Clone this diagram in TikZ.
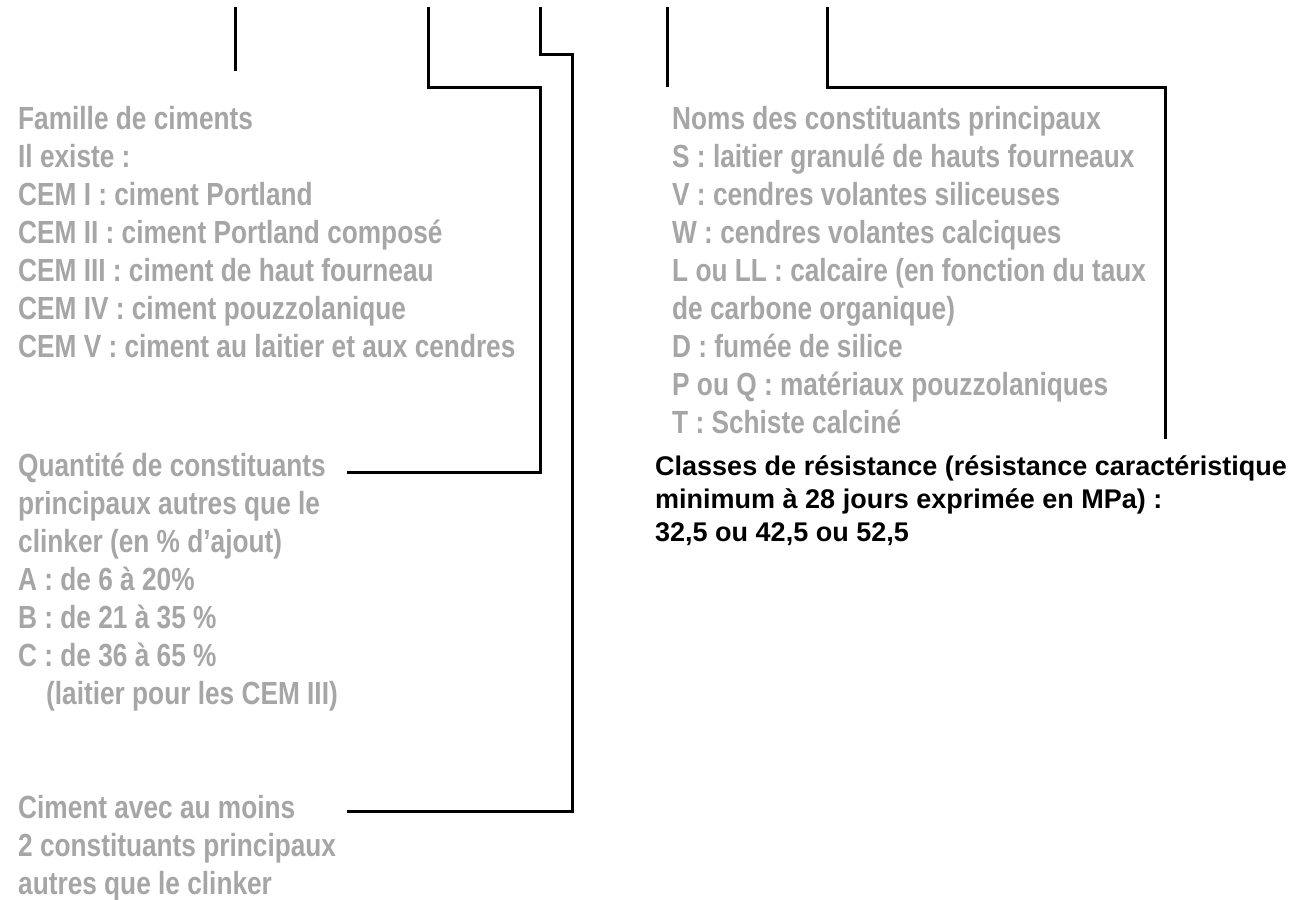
\documentclass[tikz,border=0pt]{standalone}
\usepackage{fontspec}
\newfontfamily\greyfont{Liberation Sans}[FakeStretch=0.82]
\newfontfamily\blackfont{Liberation Sans}
\definecolor{txtgrey}{RGB}{166,166,166}
\begin{document}
\begin{tikzpicture}[x=1pt,y=-1pt,
  % anchor at the baseline of the LAST line of each block
  greytxt/.style={anchor=base west,inner sep=0pt,align=left,text=txtgrey,
    font=\greyfont\bfseries\fontsize{32}{38}\selectfont},
  blacktxt/.style={anchor=base west,inner sep=0pt,align=left,text=black,
    font=\blackfont\bfseries\fontsize{27}{33}\selectfont},
  leader/.style={line width=3pt,black}]
\useasboundingbox (0,0) rectangle (1292,899);
\fill[white] (0,0) rectangle (1292,899);

\node[greytxt] (famille) at (18,357) {Famille de ciments\\Il existe :\\CEM I : ciment Portland\\CEM II : ciment Portland composé\\CEM III : ciment de haut fourneau\\CEM IV : ciment pouzzolanique\\CEM V : ciment au laitier et aux cendres};

\node[greytxt] (quantite) at (18,704) {Quantité de constituants\\principaux autres que le\\clinker (en \% d’ajout)\\A : de 6 à 20\%\\B : de 21 à 35 \%\\C : de 36 à 65 \%\\\hspace*{28pt}(laitier pour les CEM III)};

\node[greytxt] (ciment) at (18,894) {Ciment avec au moins\\2 constituants principaux\\autres que le clinker};

\node[greytxt] (noms) at (672,433) {Noms des constituants principaux\\S : laitier granulé de hauts fourneaux\\V : cendres volantes siliceuses\\W : cendres volantes calciques\\L ou LL : calcaire (en fonction du taux\\de carbone organique)\\D : fumée de silice\\P ou Q : matériaux pouzzolaniques\\T : Schiste calciné};

\node[blacktxt] (classes) at (655,541) {Classes de résistance (résistance caractéristique\\minimum à 28 jours exprimée en MPa) :\\32,5 ou 42,5 ou 52,5};

% free ends of the leaders
\coordinate (a0) at (235,7);  \coordinate (a1) at (235,71);
\coordinate (b0) at (428,7);  \coordinate (b1) at (428,87);
\coordinate (b2) at (540,87); \coordinate (b3) at (540,472);
\coordinate (b4) at (347,472);
\coordinate (c0) at (540,7);  \coordinate (c1) at (540,55);
\coordinate (c2) at (572,55); \coordinate (c3) at (572,811);
\coordinate (c4) at (347,811);
\coordinate (d0) at (667,7);  \coordinate (d1) at (667,87);
\coordinate (e0) at (827,7);  \coordinate (e1) at (827,87);
\coordinate (e2) at (1165,87); \coordinate (e3) at (1165,439);

\draw[leader] (a0) -- (a1);
\draw[leader] (b0) -- (b1) -- (b2) -- (b3) -- (b4);
\draw[leader] (c0) -- (c1) -- (c2) -- (c3) -- (c4);
\draw[leader] (d0) -- (d1);
\draw[leader] (e0) -- (e1) -- (e2) -- (e3);
\end{tikzpicture}
\end{document}
